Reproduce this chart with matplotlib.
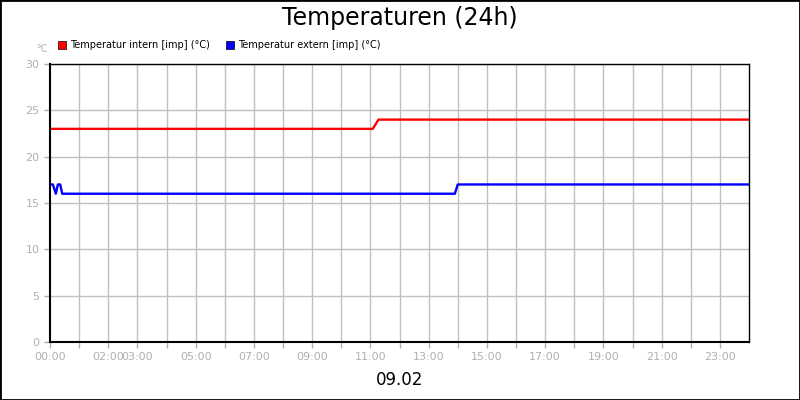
import matplotlib
matplotlib.use("Agg")
import matplotlib.pyplot as plt
from matplotlib.patches import Rectangle

t_int = [0, 11.08, 11.28, 24]
v_int = [23, 23, 24, 24]
t_ext = [0, 0.1, 0.2, 0.27, 0.35, 0.42, 13.9, 14.0, 24]
v_ext = [17, 17, 16, 17, 17, 16, 16, 17, 17]
tick_pos = [0, 2, 3, 5, 7, 9, 11, 13, 15, 17, 19, 21, 23]
tick_lab = ["00:00", "02:00", "03:00", "05:00", "07:00", "09:00", "11:00",
            "13:00", "15:00", "17:00", "19:00", "21:00", "23:00"]
y_ticks = [0, 5, 10, 15, 20, 25, 30]
hours = list(range(1, 24))

fig = plt.figure(figsize=(8, 4), dpi=100)
fig.patches.append(Rectangle((0, 0), 1, 1, transform=fig.transFigure, fill=False,
                             edgecolor="black", linewidth=2))
ax = fig.add_axes([50/800, 1-342/400, 699/800, 278/400])
for h in hours:
    ax.axvline(h, color="#c0c0c0", lw=1, zorder=0)
ax.plot(t_int, v_int, color="#ff0000", lw=1.7)
ax.plot(t_ext, v_ext, color="#0000ff", lw=1.7)
ax.set_xlim(0, 24)
ax.set_ylim(0, 30)
ax.set_xticks(hours, minor=True)
ax.set_xticks(tick_pos, tick_lab)
ax.set_yticks(y_ticks)
ax.grid(True, which="major", axis="y", color="#c0c0c0", lw=1, zorder=0)
ax.set_axisbelow(True)
ax.tick_params(axis="both", which="both", colors="#b0b0b0", labelsize=8, length=4, width=1)
for s in ["left", "bottom"]:
    ax.spines[s].set_linewidth(1.5)
ax.spines["top"].set_linewidth(1)
ax.spines["right"].set_linewidth(1)
fig.text(0.5, 1-18/400, "Temperaturen (24h)", ha="center", va="center", fontsize=17)
fig.text(0.5, 1-380/400, "09.02", ha="center", va="center", fontsize=12)
fig.text(42/800, 1-49/400, "°C", ha="center", va="center", fontsize=7, color="#b0b0b0")
fig.patches.append(Rectangle((58/800, 1-49/400), 8/800, 8/400, transform=fig.transFigure,
                             facecolor="#ff0000", edgecolor="black", lw=0.5))
fig.text(70/800, 1-45/400, "Temperatur intern [imp] (°C)", va="center", fontsize=7)
fig.patches.append(Rectangle((226/800, 1-49/400), 8/800, 8/400, transform=fig.transFigure,
                             facecolor="#0000ff", edgecolor="black", lw=0.5))
fig.text(238/800, 1-45/400, "Temperatur extern [imp] (°C)", va="center", fontsize=7)
fig.savefig("out.png", dpi=100)
